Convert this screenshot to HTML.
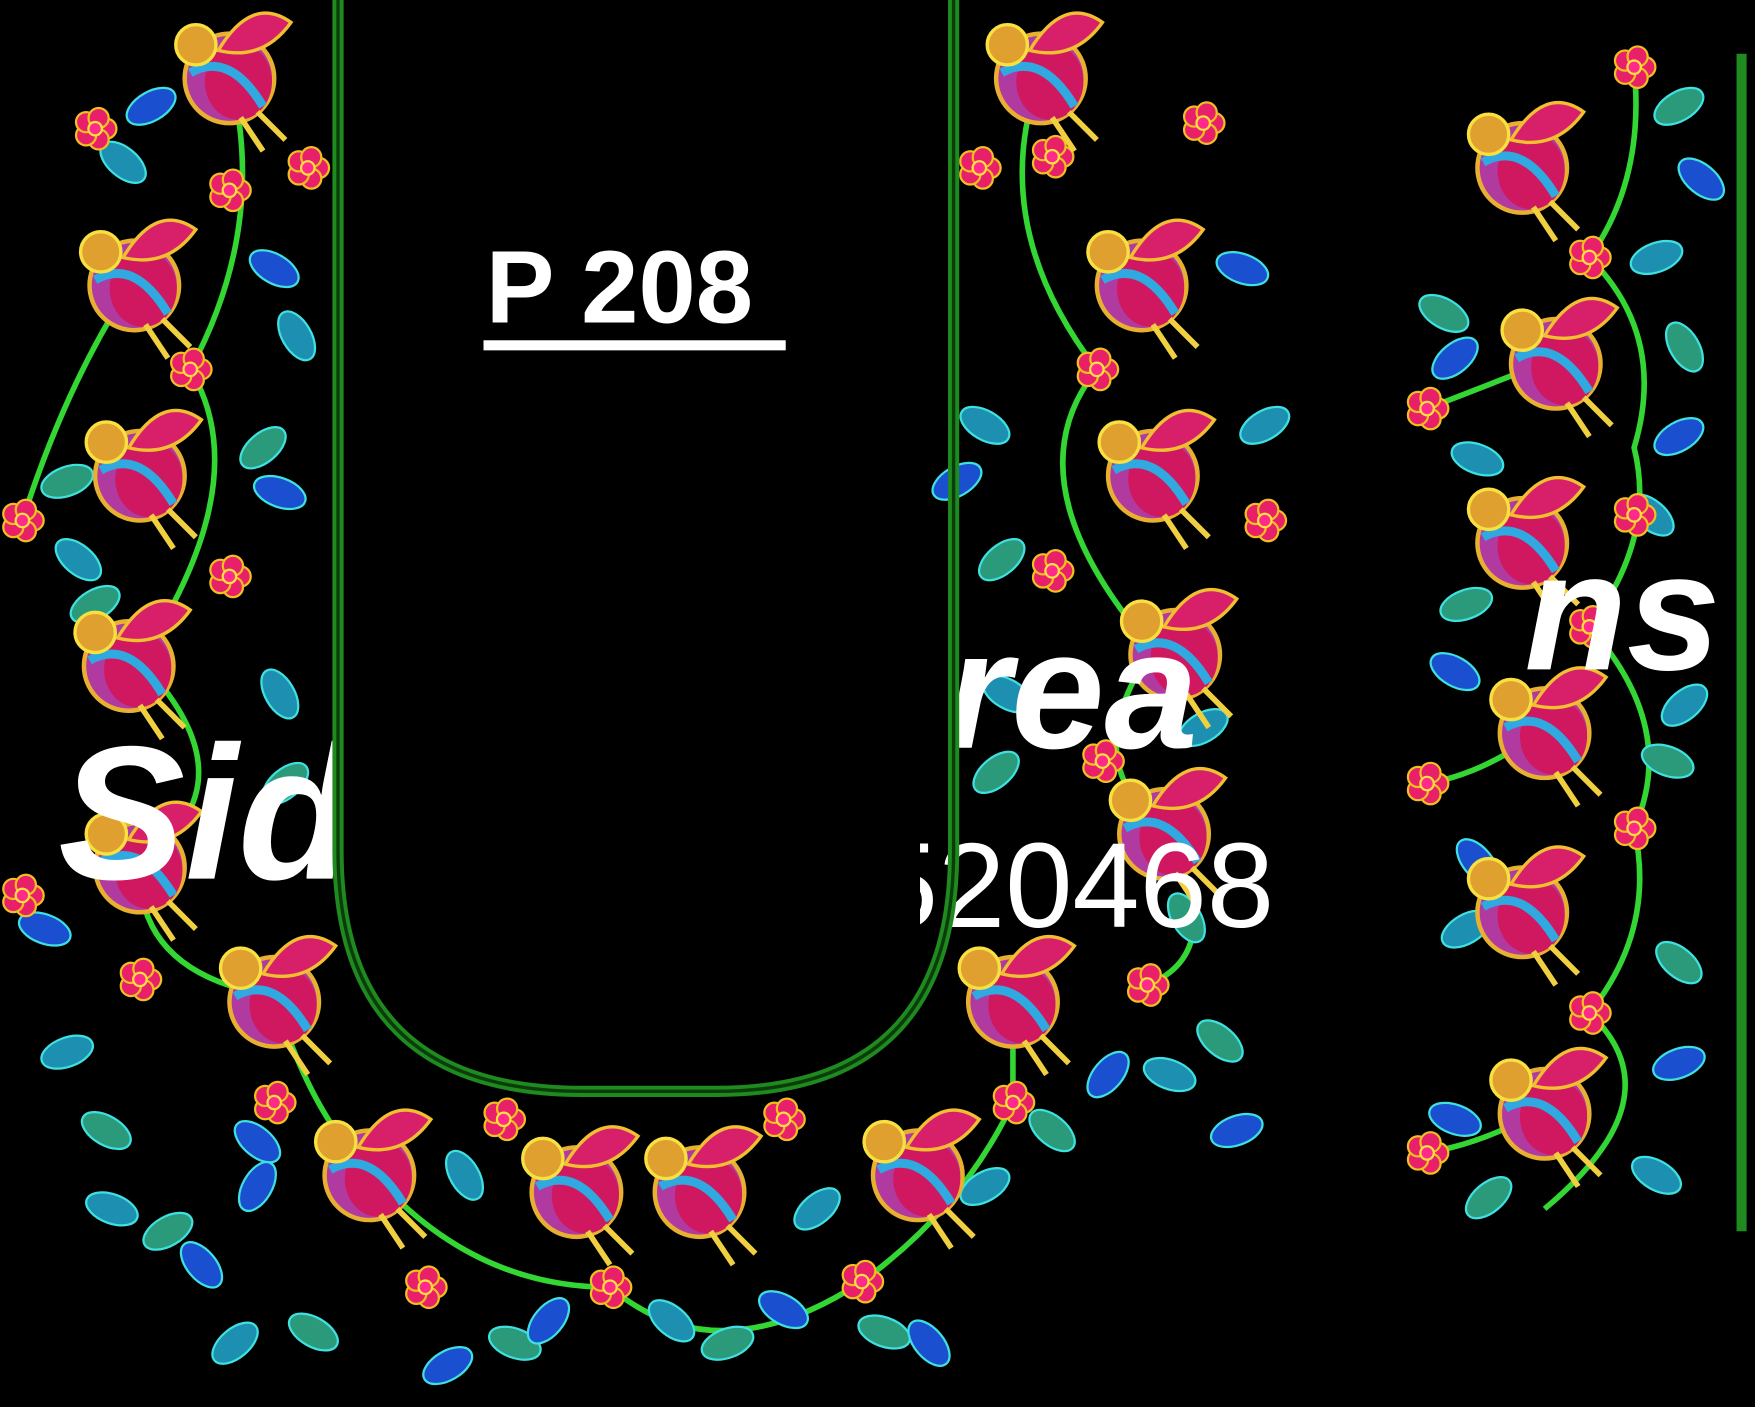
<!DOCTYPE html>
<html><head><meta charset="utf-8"><style>
html,body{margin:0;padding:0;background:#000;width:1755px;height:1407px;overflow:hidden}
svg{display:block}
</style></head><body>
<svg id="s" width="1755" height="1407" viewBox="0 0 1568 1257" preserveAspectRatio="none" xmlns="http://www.w3.org/2000/svg">
<defs>
<clipPath id="cl1"><rect x="0" y="0" width="300" height="1257"/></clipPath>
<clipPath id="cl2"><rect x="822" y="0" width="336" height="1257"/></clipPath>
</defs>
<rect width="1568" height="1257" fill="#000"/>
<g id="vines" fill="none" stroke="#33d633" stroke-width="5"></g>
<g id="leaves"></g>
<g id="flowers"></g>
<g id="birds"></g>
<g fill="#fff" font-family="Liberation Sans, sans-serif" font-weight="bold">
<text x="52" y="785" font-size="170" font-style="italic" clip-path="url(#cl1)">Sidu</text>
<text x="845" y="668" font-size="150" font-style="italic">rea</text>
<text x="1362" y="598" font-size="150" font-style="italic">ns</text>
<text x="778" y="828" font-size="108" font-weight="normal" clip-path="url(#cl2)">520468</text>
</g>
<g fill="none" stroke="#1f8a1f">
<path d="M302 0 V760 Q302 975 520 975 H640 Q852 975 852 760 V0" stroke-width="10"/>
<path d="M302 0 V760 Q302 975 520 975 H640 Q852 975 852 760 V0" stroke="#0b3d0b" stroke-width="3"/>
<path d="M1556 48 V1100" stroke-width="9"/>
</g>
<g>
<text x="434" y="288" font-family="Liberation Sans, sans-serif" font-weight="bold" font-size="92" fill="#fff">P 208</text>
<rect x="432" y="304" width="270" height="9" fill="#fff"/>
</g>
</svg>
<script>
const NS='http://www.w3.org/2000/svg';
const birdX=[205,120,125,115,125,245,330,515,625,820,905,930,1020,1030,1050,1040,1360,1390,1360,1380,1360,1380];
const birdY=[65,250,420,590,770,890,1045,1060,1060,1045,890,65,250,420,580,740,145,320,480,650,810,990];
const flowerX=[85,205,275,170,20,205,20,125,245,450,380,545,700,770,905,1025,875,940,1075,980,1130,940,985,1460,1420,1275,1460,1420,1275,1460,1420,1275];
const flowerY=[115,170,150,330,465,515,800,875,985,1000,1150,1150,1000,1145,985,880,150,140,110,330,465,510,680,60,230,365,460,560,700,740,905,1030];
const leafX=[135,110,60,245,265,235,250,70,85,40,250,255,230,60,95,230,100,150,180,210,280,400,415,460,490,600,650,700,730,790,830,880,940,990,1045,1060,855,880,895,1110,1130,1090,1105,900,890,1060,1075,1500,1520,1480,1290,1300,1320,1505,1500,1475,1310,1300,1505,1490,1320,1310,1500,1500,1480,1330,1300];
const leafY=[95,145,430,240,300,400,440,500,540,830,620,700,1020,940,1010,1060,1080,1100,1130,1200,1190,1220,1050,1200,1180,1180,1200,1170,1080,1190,1200,1060,1010,960,960,820,430,380,500,240,380,930,1010,620,690,570,650,95,160,230,280,320,410,310,390,460,540,600,630,680,770,830,860,950,1050,1070,1000];
const leafA=[-30,40,-20,30,60,-40,20,40,-30,20,60,-40,40,-20,30,-60,20,-30,50,-40,30,-30,60,20,-50,40,-20,30,-40,20,50,-30,40,-50,20,60,-30,30,-40,20,-30,40,-20,30,-40,60,-30,-30,40,-20,30,-40,20,60,-30,40,-20,30,-40,20,50,-30,40,-20,30,-40,20];
function el(t,a,p){const e=document.createElementNS(NS,t);for(const k in a)e.setAttribute(k,a[k]);p.appendChild(e);return e;}
const vg=document.getElementById('vines');
const vinePaths=['M205 65 Q240 200 170 330 Q230 430 125 590 Q230 700 125 770 Q120 870 245 890 Q280 1000 330 1045','M120 250 Q60 340 20 465','M330 1045 Q420 1150 545 1150 Q640 1230 770 1145 Q860 1080 905 985 L905 890','M930 65 Q880 200 980 330 Q900 430 1030 580 Q960 680 1040 740 Q1100 850 1025 880','M1460 60 Q1470 160 1420 230 Q1490 300 1460 400 Q1480 480 1420 560 Q1500 650 1460 740 Q1480 830 1420 905 Q1500 980 1380 1080','M1275 365 Q1340 340 1390 320','M1275 700 Q1330 690 1380 650','M1275 1030 Q1330 1020 1380 990'];
vinePaths.forEach((d,i)=>{const p=el('path',{d:d},vg);

});
const lg=document.getElementById('leaves');
for(let i=0;i<leafX.length;i++){
 const c=i%3==0?'#1a4fd0':(i%3==1?'#1d8fb0':'#2a9a7a');
 const e=el('ellipse',{cx:leafX[i],cy:leafY[i],rx:24,ry:13,fill:c,stroke:'#3fe0e0','stroke-width':2,transform:`rotate(${leafA[i]} ${leafX[i]} ${leafY[i]})`},lg);
 
 
}
const fg=document.getElementById('flowers');
for(let i=0;i<flowerX.length;i++){
 const g=el('g',{},fg);
 
 
 for(let k=0;k<5;k++){const a=k*72*Math.PI/180;
  el('circle',{cx:flowerX[i]+Math.cos(a)*10,cy:flowerY[i]+Math.sin(a)*10,r:9,fill:'#e8206a',stroke:'#f0c020','stroke-width':2},g);}
 el('circle',{cx:flowerX[i],cy:flowerY[i],r:6,fill:'#ff2a8a',stroke:'#ffe040','stroke-width':2},g);
}
const bg=document.getElementById('birds');
for(let i=0;i<birdX.length;i++){
 const x=birdX[i],y=birdY[i];
 const g=el('g',{},bg);
 
 
 el('circle',{cx:x,cy:y+5,r:40,fill:'#b03aa0',stroke:'#e8b030','stroke-width':4},g);
 el('ellipse',{cx:x+8,cy:y+8,rx:30,ry:34,fill:'#d01860'},g);
 el('path',{d:`M${x-35} ${y} Q${x} ${y-20} ${x+30} ${y+30}`,stroke:'#30a8e0','stroke-width':8,fill:'none'},g);
 el('path',{d:`M${x-10} ${y-20} Q${x+20} ${y-70} ${x+55} ${y-45} Q${x+30} ${y-10} ${x-10} ${y-20}Z`,fill:'#d8206a',stroke:'#f0c030','stroke-width':3},g);
 el('circle',{cx:x-30,cy:y-25,r:18,fill:'#e0a030',stroke:'#f8e040','stroke-width':3},g);
 el('path',{d:`M${x+10} ${y+40} l20 30 M${x+25} ${y+35} l25 25`,stroke:'#f0d040','stroke-width':5,fill:'none'},g);
}
</script>
</body></html>
